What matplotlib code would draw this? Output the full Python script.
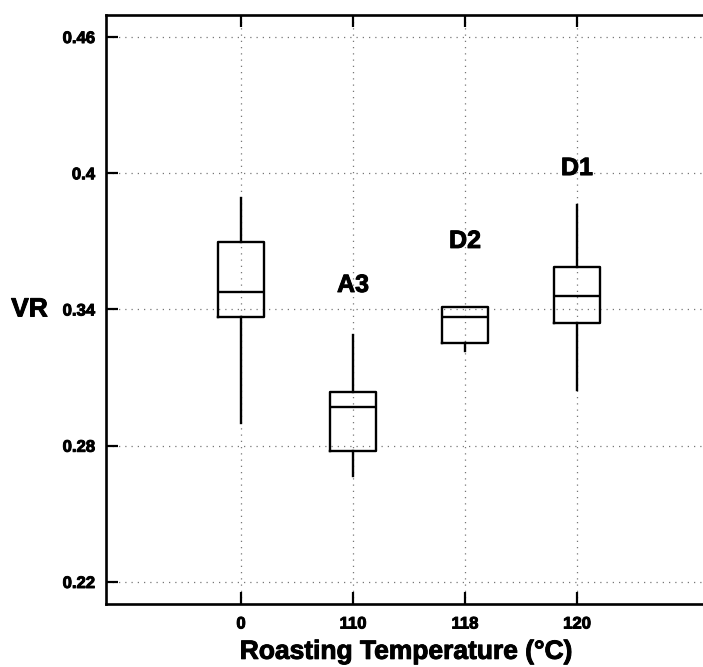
import matplotlib
matplotlib.use("Agg")
import matplotlib.pyplot as plt
import matplotlib.patheffects as pe

plt.rcParams['font.family'] = ['Liberation Sans', 'DejaVu Sans']
plt.rcParams['font.weight'] = 'bold'

# ---- data ----
temps = ['0', '110', '118', '120']
groups = ['', 'A3', 'D2', 'D1']
whis_lo = [0.2900, 0.2667, 0.3217, 0.3046]
q1 = [0.3367, 0.2777, 0.3253, 0.3341]
med = [0.3477, 0.2971, 0.3367, 0.3460]
q3 = [0.3697, 0.3037, 0.3411, 0.3587]
whis_hi = [0.3891, 0.3288, 0.3411, 0.3860]
label_y = [0.0, 0.3508, 0.3702, 0.4023]
yticks = [0.22, 0.28, 0.34, 0.40, 0.46]
ytick_labels = ['0.22', '0.28', '0.34', '0.4', '0.46']

heavy = [pe.withStroke(linewidth=0.7, foreground='black')]

W, H = 703, 667
fig = plt.figure(figsize=(W / 100, H / 100), dpi=100)
ax = fig.add_axes([106 / W, 1 - 604 / H, (706 - 106) / W, (604 - 15) / H])

pos = list(range(1, len(temps) + 1))
stats = []
for i in range(len(temps)):
    stats.append(dict(whislo=whis_lo[i], q1=q1[i], med=med[i], q3=q3[i],
                      whishi=whis_hi[i], fliers=[], label=temps[i]))

ax.bxp(stats, positions=pos, widths=0.41, showcaps=False, showfliers=False,
       boxprops=dict(color='black', linewidth=1.7),
       medianprops=dict(color='black', linewidth=1.7),
       whiskerprops=dict(color='black', linewidth=1.7))

for p, g, yy in zip(pos, groups, label_y):
    if g:
        ax.text(p, yy, g, ha='center', va='center', fontsize=18,
                fontweight='bold', path_effects=heavy)

ax.set_xlim(-0.205, 5.152)
ax.set_ylim(0.2103, 0.4697)
ax.set_xticks(pos)
ax.set_xticklabels(temps, fontsize=12, fontweight='bold')
ax.set_yticks(yticks)
ax.set_yticklabels(ytick_labels, fontsize=12, fontweight='bold')
for t in ax.get_xticklabels() + ax.get_yticklabels():
    t.set_path_effects(heavy)

ax.grid(True, linestyle=(0, (1, 4)), color='#777777', linewidth=0.9)
ax.set_axisbelow(True)
for s in ['left', 'bottom', 'top']:
    ax.spines[s].set_linewidth(1.9)
ax.spines['right'].set_visible(False)
ax.tick_params(axis='both', direction='in', length=8.5, width=1.6, top=True,
               right=False, pad=8)
ax.tick_params(axis='x', pad=9)

ax.set_xlabel('Roasting Temperature (°C)', fontsize=19, fontweight='bold',
              labelpad=6, path_effects=heavy)
ax.set_ylabel('VR', fontsize=19, fontweight='bold', rotation=0, va='center',
              ha='right', path_effects=heavy)
ax.yaxis.set_label_coords(-0.097, (0.34 - 0.2103) / (0.4697 - 0.2103))

fig.savefig('out.png', dpi=100)
